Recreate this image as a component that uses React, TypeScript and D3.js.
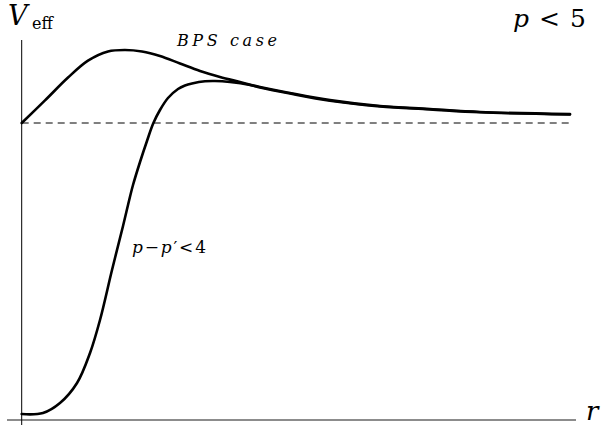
import React from "react";
import * as d3 from "d3";

const bpsR = [0, 0.425, 0.845, 1.209, 1.574, 1.884, 2.194, 2.522, 2.887, 3.252, 3.616, 3.981, 4.346, 4.893, 5.622, 6.534, 7.446, 8.358, 10];
const bpsV = [1.0, 1.076, 1.153, 1.21, 1.241, 1.246, 1.241, 1.2256, 1.2003, 1.175, 1.155, 1.138, 1.121, 1.101, 1.077, 1.057, 1.047, 1.037, 1.03];

const nbR = [0, 0.388, 0.698, 1.009, 1.246, 1.428, 1.647, 1.848, 1.939, 2.03, 2.158, 2.285, 2.4, 2.522, 2.668, 2.851, 2.978, 3.106, 3.343, 3.525, 3.799, 4.164, 4.346, 4.893, 5.622, 6.534, 7.446, 8.358, 10];
const nbV = [0.02, 0.0236, 0.0572, 0.1246, 0.2256, 0.3367, 0.5051, 0.6532, 0.7239, 0.7912, 0.8687, 0.9394, 0.999, 1.0438, 1.0842, 1.1145, 1.1263, 1.133, 1.1404, 1.1414, 1.138, 1.1279, 1.1195, 1.099, 1.075, 1.056, 1.046, 1.036, 1.029];

const asymptote = 1;

const W = 608;
const H = 430;

export default function App() {
  const x = d3.scaleLinear().domain([0, 10]).range([21.7, 570]);
  const y = d3.scaleLinear().domain([0, 1]).range([420, 123]);

  const line = d3
    .line<[number, number]>()
    .x((d) => x(d[0]))
    .y((d) => y(d[1]))
    .curve(d3.curveCatmullRom.alpha(0.5));

  const bps = bpsR.map((r, i) => [r, bpsV[i]] as [number, number]);
  const nb = nbR.map((r, i) => [r, nbV[i]] as [number, number]);

  const serif: React.CSSProperties = { fontFamily: "'DejaVu Serif', serif" };

  return (
    <svg
      width={W}
      height={H}
      style={{ position: "absolute", left: 0, top: 0, background: "#fff" }}
    >
      {/* axes */}
      <line x1={7} x2={576} y1={y(0)} y2={y(0)} stroke="#666" strokeWidth={1.4} />
      <line x1={x(0)} x2={x(0)} y1={40} y2={425} stroke="#000" strokeWidth={1} />
      {/* asymptote */}
      <line
        x1={x(0)}
        x2={x(10)}
        y1={y(asymptote)}
        y2={y(asymptote)}
        stroke="#000"
        strokeWidth={1}
        strokeDasharray="7,5"
      />
      <path d={line(bps) || ""} fill="none" stroke="#000" strokeWidth={2.6} strokeLinecap="round" />
      <path d={line(nb) || ""} fill="none" stroke="#000" strokeWidth={2.6} strokeLinecap="round" />

      {/* labels */}
      <text x={8} y={25} style={serif} fontStyle="italic" fontSize={27}>
        V
      </text>
      <text x={32} y={29} style={serif} fontSize={16}>
        eff
      </text>
      <text x={513} y={27} style={serif} fontStyle="italic" fontSize={25}>
        p
        <tspan fontStyle="normal" dx={10}>{"<"}</tspan>
        <tspan fontStyle="normal" dx={10}>5</tspan>
      </text>
      <text
        x={177}
        y={46}
        style={serif}
        fontStyle="italic"
        fontSize={16}
        letterSpacing={3.6}
      >
        BPS case
      </text>
      <text x={132} y={253} style={serif} fontStyle="italic" fontSize={17} letterSpacing={1.8}>
        p<tspan fontStyle="normal">−</tspan>p<tspan fontStyle="normal">′&lt;4</tspan>
      </text>
      <text x={586} y={420} style={serif} fontStyle="italic" fontSize={26}>
        r
      </text>
    </svg>
  );
}
